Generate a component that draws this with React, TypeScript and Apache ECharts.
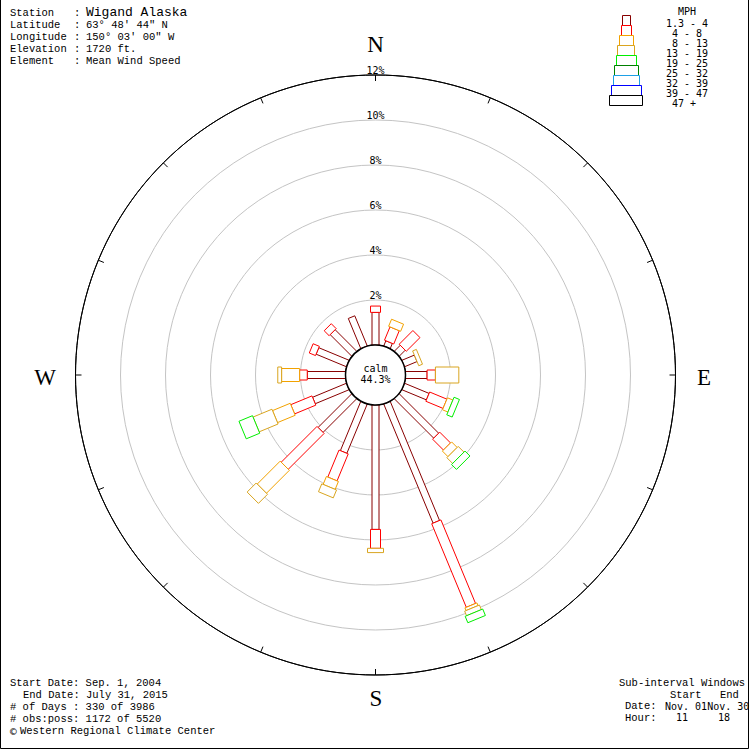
import React, { useEffect, useRef } from "react";
import * as echarts from "echarts";

// ---- data ----
const directions = ["N", "NNE", "NE", "ENE", "E", "ESE", "SE", "SSE", "S", "SSW", "SW", "WSW", "W", "WNW", "NW", "NNW"];
const directionAngles = [0, 22.5, 45, 67.5, 90, 112.5, 135, 157.5, 180, 202.5, 225, 247.5, 270, 292.5, 315, 337.5];
const speedClasses = ["1.3 - 4", "4 - 8", "8 - 13", "13 - 19", "19 - 25", "25 - 32", "32 - 39", "39 - 47", "47 +"];
// percent of observations per direction, per speed class
const mph1to4 = [1.45, 0.25, 0.38, 0.6, 0.96, 1.18, 2.48, 5.73, 5.53, 2.37, 2.12, 1.63, 1.7, 1.46, 1.36, 1.45];
const mph4to8 = [0.28, 0.64, 0.86, 0, 0.37, 0.83, 0.68, 4.02, 0.84, 1.3, 2.25, 1.02, 0.34, 0.3, 0.31, 0];
const mph8to13 = [0, 0.34, 0, 0, 0, 0.26, 0.35, 0.13, 0, 0.38, 1.44, 0.85, 0.8, 0, 0, 0];
const mph13to19 = [0, 0, 0, 0.18, 1.04, 0, 0.36, 0.22, 0.19, 0.38, 0.57, 0.91, 0.17, 0, 0, 0];
const mph19to25 = [0, 0, 0, 0, 0, 0.26, 0.31, 0.31, 0, 0, 0, 0.65, 0, 0, 0, 0];
const mph25to32 = [0, 0, 0, 0, 0, 0, 0, 0, 0, 0, 0, 0, 0, 0, 0, 0];
const mph32to39 = [0, 0, 0, 0, 0, 0, 0, 0, 0, 0, 0, 0, 0, 0, 0, 0];
const mph39to47 = [0, 0, 0, 0, 0, 0, 0, 0, 0, 0, 0, 0, 0, 0, 0, 0];
const mph47plus = [0, 0, 0, 0, 0, 0, 0, 0, 0, 0, 0, 0, 0, 0, 0, 0];
const calmPct = 44.3;
const ringTicks = [0, 2, 4, 6, 8, 10, 12];

const infoLabels = ["Station", "Latitude", "Longitude", "Elevation", "Element"];
const infoValues = ["Wigand Alaska", "63\u00b0 48' 44\" N", "150\u00b0 03' 00\" W", "1720 ft.", "Mean Wind Speed"];
const footerLines = ["Start Date: Sep. 1, 2004", "End Date: July 31, 2015", "# of Days : 330 of 3986", "# obs:poss: 1172 of 5520"];

// ---- styles ----
const classColors = ["#880000", "#ff0000", "#f2a200", "#d9a520", "#00ee00", "#008000", "#1ea0e6", "#0000ff", "#000000"];
const classWidths = [7, 10, 13, 16, 19, 22, 25, 28, 31];
const legendWidths = [8, 10, 14, 17, 20, 24, 26, 30, 33];
const MONO = "'Liberation Mono', 'DejaVu Sans Mono', monospace";
const SMONO = "'DejaVu Sans Mono', monospace";

const classData = [mph1to4, mph4to8, mph8to13, mph13to19, mph19to25, mph25to32, mph32to39, mph39to47, mph47plus];

function buildSegments() {
  const segs: number[][] = [];
  directions.forEach((_, i) => {
    let cum = 0;
    classData.forEach((arr, c) => {
      const v = arr[i];
      if (v > 0) {
        segs.push([directionAngles[i], cum, cum + v, c]);
        cum += v;
      }
    });
  });
  return segs;
}

function txt(x: number, y: number, text: string, font: string, align = "left") {
  return {
    type: "text",
    x,
    y,
    z: 100,
    style: { text, font, fill: "#000", align, verticalAlign: "middle" },
  };
}

export default function App() {
  const ref = useRef<HTMLDivElement>(null);
  useEffect(() => {
    if (!ref.current) return;
    const chart = echarts.init(ref.current, null, { renderer: "svg" });
    const segs = buildSegments();

    const graphic: any[] = [];
    // info header
    infoLabels.forEach((l, i) => {
      const y = 12.5 + i * 12;
      graphic.push(txt(10, y, l, `10.5px ${MONO}`));
      graphic.push(txt(74, y, ":", `10.5px ${MONO}`));
      graphic.push(txt(86, y, infoValues[i], i === 0 ? `13px ${MONO}` : `10.5px ${MONO}`));
    });
    // footer left
    footerLines.forEach((l, i) => {
      const y = [683, 695, 707, 718.5][i];
      graphic.push(txt(i === 1 ? 23 : 10, y, l, `10.5px ${MONO}`));
    });
    graphic.push(txt(10, 731, "\u00a9", `11px ${SMONO}`));
    graphic.push(txt(20, 731, "Western Regional Climate Center", `10.5px ${MONO}`));
    // footer right
    graphic.push(txt(619, 683, "Sub-interval Windows", `10.5px ${MONO}`));
    graphic.push(txt(670, 695, "Start", `10.5px ${MONO}`));
    graphic.push(txt(720, 695, "End", `10.5px ${MONO}`));
    graphic.push(txt(625, 706, "Date:", `10.5px ${MONO}`));
    graphic.push(txt(665, 706, "Nov. 01Nov. 30", `10px ${SMONO}`));
    graphic.push(txt(625, 717.5, "Hour:", `10.5px ${MONO}`));
    graphic.push(txt(676, 717.5, "11", `10px ${SMONO}`));
    graphic.push(txt(718, 717.5, "18", `10px ${SMONO}`));
    // compass letters
    graphic.push(txt(375.5, 44, "N", `23px 'Liberation Serif', serif`, "center"));
    graphic.push(txt(376, 698, "S", `23px 'Liberation Serif', serif`, "center"));
    graphic.push(txt(45, 377, "W", `23px 'Liberation Serif', serif`, "center"));
    graphic.push(txt(704, 377, "E", `23px 'Liberation Serif', serif`, "center"));
    // calm
    graphic.push(txt(375.5, 368, "calm", `10px ${SMONO}`, "center"));
    graphic.push(txt(375.5, 379.5, `${calmPct}%`, `10px ${SMONO}`, "center"));
    // legend
    graphic.push(txt(678, 11, "MPH", `10px ${SMONO}`));
    speedClasses.forEach((s, i) => {
      const w = legendWidths[i];
      graphic.push({
        type: "rect",
        z: 100,
        shape: { x: Math.round(625.5 - w / 2) + 0.5, y: 15.5 + i * 10, width: w, height: 10 },
        style: { fill: "#fff", stroke: classColors[i], lineWidth: 1 },
      });
      const label = s.length < 7 ? "\u00a0" + s : s;
      graphic.push(txt(666, 23 + i * 10, label, `10px ${SMONO}`));
    });
    // frame
    graphic.push({
      type: "polyline",
      z: 120,
      shape: { points: [[0.5, 0], [0.5, 748.5], [748.5, 748.5], [748.5, 0]] },
      style: { stroke: "#000", lineWidth: 1, fill: null },
    });

    chart.setOption({
      animation: false,
      backgroundColor: "#fff",
      polar: { center: [375.5, 375], radius: [30, 300] },
      angleAxis: {
        type: "value",
        min: 0,
        max: 360,
        interval: 22.5,
        startAngle: 90,
        clockwise: true,
        axisLine: { show: true, lineStyle: { color: "#000", width: 1 } },
        axisTick: { show: true, inside: true, length: 6, lineStyle: { color: "#000", width: 1 } },
        axisLabel: { show: false },
        splitLine: { show: false },
      },
      radiusAxis: {
        type: "value",
        min: 0,
        max: 12,
        interval: 2,
        axisLine: { show: false },
        axisTick: { show: false },
        axisLabel: {
          show: true,
          margin: 0,
          align: "center",
          verticalAlign: "bottom",
          fontFamily: "DejaVu Sans Mono",
          fontSize: 10,
          color: "#000",
          formatter: (v: number) => (v === 0 ? "" : `${v}%`),
        },
        splitLine: {
          show: true,
          lineStyle: { color: ["#000", "#c4c4c4", "#c4c4c4", "#c4c4c4", "#c4c4c4", "#c4c4c4", "#000"], width: 1 },
        },
      },
      graphic,
      series: [
        {
          type: "custom",
          coordinateSystem: "polar",
          clip: false,
          encode: { angle: 0, radius: 2 },
          data: segs,
          renderItem: (params: any, api: any) => {
            const ang = api.value(0);
            const r0 = api.value(1);
            const r1 = api.value(2);
            const cls = api.value(3);
            const a = api.coord([r0, ang]);
            const b = api.coord([r1, ang]);
            const near = api.coord([0, ang]);
            const far = api.coord([ringTicks[ringTicks.length - 1], ang]);
            let ux = far[0] - near[0];
            let uy = far[1] - near[1];
            const len = Math.hypot(ux, uy);
            ux /= len;
            uy /= len;
            const hw = classWidths[cls] / 2;
            const nx = -uy * hw;
            const ny = ux * hw;
            return {
              type: "polygon",
              shape: {
                points: [
                  [a[0] + nx, a[1] + ny],
                  [b[0] + nx, b[1] + ny],
                  [b[0] - nx, b[1] - ny],
                  [a[0] - nx, a[1] - ny],
                ],
              },
              style: { fill: "#fff", stroke: classColors[cls], lineWidth: 1 },
            };
          },
        },
        {
          type: "custom",
          coordinateSystem: "polar",
          clip: false,
          encode: { angle: 0, radius: 1 },
          data: [[0, 0]],
          z: 5,
          renderItem: (params: any, api: any) => {
            const top = api.coord([0, 0]);
            const bot = api.coord([0, 180]);
            const cx = (top[0] + bot[0]) / 2;
            const cy = (top[1] + bot[1]) / 2;
            const r = Math.hypot(top[0] - bot[0], top[1] - bot[1]) / 2;
            return {
              type: "circle",
              shape: { cx, cy, r },
              style: { fill: "#fff", stroke: "#000", lineWidth: 1.5 },
            };
          },
        },
      ],
    });
    return () => chart.dispose();
  }, []);
  return <div ref={ref} style={{ position: "fixed", left: 0, top: 0, width: 750, height: 750 }} />;
}
